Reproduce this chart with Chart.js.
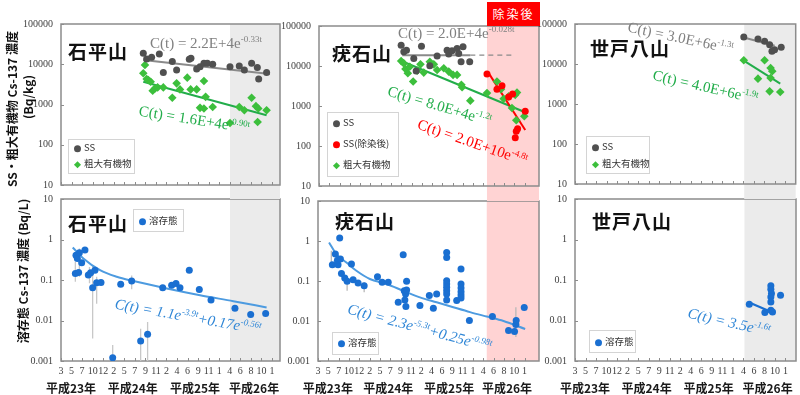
<!DOCTYPE html>
<html>
<head>
<meta charset="utf-8">
<script src="https://cdn.jsdelivr.net/npm/chart.js@4.4.1/dist/chart.umd.min.js"></script>
<style>
body { margin: 0; background: #fff; }
#wrap { position: relative; width: 800px; height: 395px; overflow: hidden; font-family: "Noto Sans CJK JP", sans-serif; }
canvas { position: absolute; left: 0; top: 0; }
.ti { position: absolute; font-size: 19px; font-weight: bold; color: #111; letter-spacing: 1px; line-height: 1; transform: translateY(-50%); white-space: nowrap; }
.eq { position: absolute; font-family: "Liberation Serif", serif; font-size: 15px; line-height: 1; white-space: nowrap; transform-origin: 0 50%; }
.eq.it { font-style: italic; }
.eq sup { font-size: 9px; vertical-align: 6px; line-height: 0; }
.yt { position: absolute; transform: translate(-50%, -50%) rotate(-90deg); font-weight: bold; font-size: 12px; color: #111; white-space: nowrap; line-height: 1; }
.lg { position: absolute; border: 1px solid #d4d4d4; background: #fff; font-size: 9.5px; color: #333; }
.li { position: absolute; left: 5px; white-space: nowrap; line-height: 1; transform: translateY(-50%); }
.dot { display: inline-block; width: 7px; height: 7px; border-radius: 50%; margin-right: 3px; vertical-align: -0.5px; }
.dia { display: inline-block; width: 5px; height: 5px; transform: rotate(45deg); margin: 0 4px 0 1px; vertical-align: 0.5px; }
#jo { position: absolute; left: 487px; top: 2px; width: 53px; height: 24px; background: #ff0000; color: #fff; font-size: 12px; letter-spacing: 2px; text-align: center; line-height: 24px; }
</style>
</head>
<body>
<div id="wrap">
  <canvas id="bl" width="800" height="395"></canvas>
  <canvas id="bm" width="800" height="395"></canvas>
  <canvas id="br" width="800" height="395"></canvas>
  <canvas id="tl" width="800" height="395"></canvas>
  <canvas id="tm" width="800" height="395"></canvas>
  <canvas id="tr" width="800" height="395"></canvas>

  <div id="jo">除染後</div>

  <div class="yt" style="left:12px;top:109px">SS・粗大有機物 Cs-137 濃度</div>
  <div class="yt" style="left:28px;top:97px">(Bq/kg)</div>
  <div class="yt" style="left:23px;top:271px">溶存態 Cs-137 濃度 (Bq/L)</div>

  <div class="ti" style="left:68px;top:50px">石平山</div>
  <div class="ti" style="left:332px;top:52px">疣石山</div>
  <div class="ti" style="left:590px;top:47px">世戸八山</div>
  <div class="ti" style="left:68px;top:222px">石平山</div>
  <div class="ti" style="left:335px;top:220px">疣石山</div>
  <div class="ti" style="left:592px;top:220px">世戸八山</div>

  <div class="eq" style="left:150px;top:43px;color:#808080;transform:translateY(-50%)">C(t) = 2.2E+4e<sup>-0.33t</sup></div>
  <div class="eq" style="left:139px;top:111px;color:#22ad4a;transform:translateY(-50%) rotate(9deg)">C(t) = 1.6E+4e<sup>-0.90t</sup></div>
  <div class="eq" style="left:398px;top:33px;color:#808080;transform:translateY(-50%)">C(t) = 2.0E+4e<sup>-0.028t</sup></div>
  <div class="eq" style="left:388px;top:91px;color:#22ad4a;transform:translateY(-50%) rotate(16.5deg)">C(t) = 8.0E+4e<sup>-1.2t</sup></div>
  <div class="eq" style="left:418px;top:124px;color:#ff0000;transform:translateY(-50%) rotate(19deg)">C(t) = 2.0E+10e<sup>-4.8t</sup></div>
  <div class="eq" style="left:628px;top:27px;color:#808080;transform:translateY(-50%) rotate(12deg)">C(t) = 3.0E+6e<sup>-1.3t</sup></div>
  <div class="eq" style="left:653px;top:75px;color:#22ad4a;transform:translateY(-50%) rotate(13deg)">C(t) = 4.0E+6e<sup>-1.9t</sup></div>
  <div class="eq it" style="left:115px;top:304px;color:#2f86d6;transform:translateY(-50%) rotate(10deg)">C(t) = 1.1e<sup>-3.9t</sup>+0.17e<sup>-0.56t</sup></div>
  <div class="eq it" style="left:348px;top:309px;color:#2f86d6;transform:translateY(-50%) rotate(15deg)">C(t) = 2.3e<sup>-5.3t</sup>+0.25e<sup>-0.98t</sup></div>
  <div class="eq it" style="left:688px;top:313px;color:#2f86d6;transform:translateY(-50%) rotate(13deg)">C(t) = 3.5e<sup>-1.6t</sup></div>

  <div class="lg" style="left:68px;top:139px;width:65px;height:33px">
    <div class="li" style="top:8px"><i class="dot" style="background:#505050"></i>SS</div>
    <div class="li" style="top:24px"><i class="dia" style="background:#3cbf3c"></i>粗大有機物</div>
  </div>
  <div class="lg" style="left:327px;top:112px;width:70px;height:63px">
    <div class="li" style="top:10px"><i class="dot" style="background:#505050"></i>SS</div>
    <div class="li" style="top:31px"><i class="dot" style="background:#ff0000"></i>SS(除染後)</div>
    <div class="li" style="top:52px"><i class="dia" style="background:#3cbf3c"></i>粗大有機物</div>
  </div>
  <div class="lg" style="left:586px;top:136px;width:62px;height:36px">
    <div class="li" style="top:10px"><i class="dot" style="background:#505050"></i>SS</div>
    <div class="li" style="top:27px"><i class="dia" style="background:#3cbf3c"></i>粗大有機物</div>
  </div>
  <div class="lg" style="left:133px;top:209px;width:49px;height:21px">
    <div class="li" style="top:11px"><i class="dot" style="background:#1a6fd1"></i>溶存態</div>
  </div>
  <div class="lg" style="left:332px;top:332px;width:45px;height:21px">
    <div class="li" style="top:10px"><i class="dot" style="background:#1a6fd1"></i>溶存態</div>
  </div>
  <div class="lg" style="left:589px;top:330px;width:45px;height:21px">
    <div class="li" style="top:11px"><i class="dot" style="background:#1a6fd1"></i>溶存態</div>
  </div>
</div>

<script>
// axis labels
const monthLabels = ['3', '5', '7', '10', '12', '2', '5', '7', '9', '11', '2', '4', '6', '9', '11', '1', '4', '6', '8', '10', '1'];
const yearLabels = ['平成23年', '平成24年', '平成25年', '平成26年'];
const yearPos = [0.95, 6.8, 12.7, 18.3];
const kgTicks = [10, 100, 1000, 10000, 100000];
const perLTicks = [0.001, 0.01, 0.1, 1, 10];

// 石平山 (SS, 粗大有機物) Bq/kg
const ishiSsX = [7.80, 8.12, 8.59, 9.32, 9.70, 10.55, 10.96, 12.16, 12.32, 12.86, 13.18, 13.55, 13.87, 14.38, 16.02, 16.90, 17.38, 18.07, 18.61, 18.74, 19.49];
const ishiSsY = [18800, 13600, 15000, 18100, 6200, 11700, 7200, 13300, 14100, 7600, 8700, 10600, 10600, 10000, 8700, 9100, 7200, 10600, 8300, 4300, 6200];
const ishiSsFitX = [7.80, 19.81];
const ishiSsFitY = [12800, 5700];
const ishiOrgX = [7.80, 7.96, 8.12, 8.28, 8.50, 8.69, 8.91, 9.16, 9.70, 10.55, 10.96, 11.28, 11.97, 12.29, 12.86, 13.55, 13.71, 13.18, 13.55, 14.38, 16.02, 16.90, 17.38, 18.07, 18.48, 18.70, 18.64, 19.49];
const ishiOrgY = [5960, 9600, 4300, 4060, 3690, 2200, 2510, 2660, 2660, 1470, 3350, 2370, 4640, 2370, 2370, 3830, 1550, 826, 794, 870, 348, 870, 720, 1470, 910, 794, 369, 720];
const ishiOrgFitX = [7.80, 19.49];
const ishiOrgFitY = [3690, 541];

// 疣石山 Bq/kg
const iboSsX = [7.99, 8.25, 8.51, 9.22, 9.45, 9.97, 10.78, 11.49, 12.46, 12.62, 12.94, 13.43, 13.59, 13.82, 14.01, 14.66];
const iboSsY = [33200, 22600, 24900, 15500, 7500, 31300, 10200, 17700, 24900, 19900, 24000, 27400, 20600, 12800, 30200, 12800];
const iboSsFitX = [8.09, 14.72];
const iboSsFitY = [18700, 18700];
const iboSsDashX = [14.72, 19.1];
const iboSsDashY = [18700, 18700];
const iboRedX = [16.34, 17.31, 17.8, 18.45, 18.83, 19.19, 19.09, 19.32, 20.06];
const iboRedY = [6340, 2640, 3190, 1670, 1990, 235, 161, 269, 738];
const iboRedFitX = [16.41, 20.06];
const iboRedFitY = [7240, 250];
const iboOrgX = [7.99, 8.25, 8.41, 8.64, 8.83, 9.16, 9.55, 9.87, 10.19, 10.78, 11.17, 11.49, 12.14, 12.62, 13.04, 13.43, 13.85, 13.92, 14.72, 16.34, 17.31, 17.7, 17.96, 18.45, 18.77, 19.09, 19.19, 19.97, 19.26];
const iboOrgY = [13300, 11600, 8430, 6580, 9600, 4090, 7660, 11000, 6840, 12800, 11000, 7940, 8750, 7240, 5990, 5990, 3380, 2960, 1360, 2100, 4090, 2640, 1520, 1740, 890, 1900, 442, 555, 2180];
const iboOrgFitX = [7.77, 20.23];
const iboOrgFitY = [14100, 670];

// 世戸八山 Bq/kg
const setoSsX = [16.06, 17.41, 18.04, 18.52, 18.74, 18.99, 19.62];
const setoSsY = [47300, 42200, 36900, 30400, 20700, 22800, 26100];
const setoSsFitX = [16.06, 19.0];
const setoSsFitY = [46000, 28500];
const setoOrgX = [16.06, 17.41, 18.04, 18.61, 18.77, 18.61, 18.52, 19.53];
const setoOrgY = [12400, 4300, 12400, 7940, 6560, 4470, 2070, 2000];
const setoOrgFitX = [16.06, 19.53];
const setoOrgFitY = [12100, 3220];

// 溶存態 Bq/L
const ishiDisX = [1.36, 1.67, 1.42, 1.55, 1.74, 1.96, 2.27, 2.59, 2.81, 3.00, 3.22, 3.38, 3.79, 4.90, 5.66, 6.70, 7.55, 8.21, 9.64, 10.49, 10.90, 11.28, 12.16, 13.11, 14.22, 16.49, 17.98, 19.40];
const ishiDisY = [0.145, 0.153, 0.41, 0.34, 0.47, 0.266, 0.55, 0.132, 0.15, 0.064, 0.175, 0.085, 0.087, 0.0012, 0.079, 0.094, 0.0031, 0.0046, 0.064, 0.074, 0.082, 0.064, 0.175, 0.058, 0.032, 0.020, 0.014, 0.0148];
const ishiErrX = [1.36, 1.74, 2.7, 3.00, 3.38, 4.90, 6.70, 7.55, 8.21];
const ishiErrLo = [0.09, 0.12, 0.083, 0.0036, 0.026, 0.001, 0.059, 0.001, 0.001];
const ishiErrHi = [0.28, 0.6, 0.21, 0.233, 0.12, 0.0025, 0.13, 0.0063, 0.0092];
const ishiDisFitX = [1.11, 2.12, 3.70, 5.28, 6.86, 10.02, 13.18, 16.33, 19.49];
const ishiDisFitY = [0.637, 0.34, 0.175, 0.12, 0.094, 0.0616, 0.042, 0.030, 0.021];

const iboDisX = [1.39, 1.68, 1.94, 1.88, 2.10, 2.17, 2.27, 2.59, 2.82, 3.24, 3.40, 3.88, 4.47, 5.76, 6.21, 6.80, 7.77, 8.25, 8.35, 8.48, 8.41, 8.58, 8.58, 8.51, 9.87, 10.78, 11.17, 11.49,
  12.46, 12.46, 12.46, 12.46, 12.46, 12.46, 12.46, 12.46, 13.43, 13.85, 13.85, 13.85, 13.85, 13.85, 13.85, 14.66, 16.89, 18.45, 19.03, 19.16, 19.19, 19.97];
const iboDisY = [0.255, 0.47, 0.255, 0.33, 1.18, 0.353, 0.155, 0.119, 0.098, 0.265, 0.108, 0.089, 0.0766, 0.128, 0.093, 0.093, 0.0294, 0.453, 0.0574, 0.0474, 0.0336, 0.098, 0.0597, 0.023, 0.0243, 0.0431, 0.0209, 0.0474,
  0.518, 0.388, 0.102, 0.084, 0.0695, 0.0574, 0.0474, 0.0336, 0.0324, 0.199, 0.084, 0.067, 0.0542, 0.0448, 0.0377, 0.0103, 0.0129, 0.0058, 0.0055, 0.0082, 0.0103, 0.0217];
const iboErrX = [19.16, 2.82, 4.47, 1.29];
const iboErrLo = [0.004, 0.057, 0.052, 0.24];
const iboErrHi = [0.022, 0.112, 0.093, 0.57];
const iboDisFitX = [1.07, 1.78, 2.75, 3.72, 5.02, 6.63, 8.25, 9.87, 11.49, 13.1, 14.72, 16.34, 17.96, 20.06];
const iboDisFitY = [0.92, 0.47, 0.29, 0.18, 0.112, 0.084, 0.057, 0.039, 0.0293, 0.0221, 0.0167, 0.0129, 0.0100, 0.0063];

const setoDisX = [16.56, 18.04, 18.61, 18.61, 18.67, 18.61, 18.61, 18.61, 18.77, 19.53];
const setoDisY = [0.0252, 0.0157, 0.0718, 0.0593, 0.0463, 0.0383, 0.0288, 0.0180, 0.0163, 0.0422];
const setoDisFitX = [16.56, 18.99];
const setoDisFitY = [0.0277, 0.0148];

const GRAY_PT = '#505050', GRAY_LN = '#8a8a8a';
const GREEN_PT = '#3cbf3c', GREEN_LN = '#22ad4a';
const RED = '#ff0000';
const BLUE_PT = '#1a6fd1', BLUE_LN = '#4d9be0';
const SHADE_GRAY = '#ebebeb', SHADE_PINK = '#ffd3d3';

const pts = (xs, ys) => xs.map((x, i) => ({ x: x, y: ys[i] }));
const bars = (xs, lo, hi) => xs.flatMap((x, i) => [{ x: x, y: lo[i] }, { x: x, y: hi[i] }, { x: x, y: null }]);

const dots = (data, color) => ({ data: data, pointStyle: 'circle', pointRadius: 3.5, backgroundColor: color, borderColor: color, borderWidth: 0 });
const diamonds = (data, color) => ({ data: data, pointStyle: 'rectRot', pointRadius: 4.3, backgroundColor: color, borderColor: color, borderWidth: 0 });
const fit = (data, color, extra) => Object.assign({ data: data, showLine: true, pointRadius: 0, borderColor: color, borderWidth: 2 }, extra || {});

// shading, frame and inward tick marks
const decor = {
  id: 'decor',
  beforeDatasetsDraw(chart, args, o) {
    const { ctx, chartArea: a, scales } = chart;
    const x = scales.x, y = scales.y;
    ctx.save();
    if (o.shadeFrom != null) {
      const x0 = x.getPixelForValue(o.shadeFrom);
      ctx.fillStyle = o.shadeColor;
      ctx.fillRect(x0, a.top, a.right - x0, a.bottom - a.top + (o.shadeDown || 0));
    }
    ctx.strokeStyle = '#8c8c8c';
    ctx.lineWidth = 1;
    ctx.beginPath();
    x.ticks.forEach(t => {
      const px = Math.round(x.getPixelForValue(t.value)) + 0.5;
      ctx.moveTo(px, a.bottom);
      ctx.lineTo(px, a.bottom - 3);
    });
    y.ticks.forEach(t => {
      const py = Math.round(y.getPixelForValue(t.value)) + 0.5;
      ctx.moveTo(a.left, py);
      ctx.lineTo(a.left + 3, py);
    });
    ctx.stroke();
    ctx.lineWidth = 1.5;
    ctx.strokeRect(a.left, a.top, a.right - a.left, a.bottom - a.top);
    ctx.restore();
  }
};

function panel(id, box, xMax, yRange, yTicks, bottomRow, shade, datasets) {
  const tickFont = { family: 'Liberation Serif', size: 10 };
  const noGrid = { display: false, drawTicks: false };
  new Chart(document.getElementById(id), {
    type: 'scatter',
    data: { datasets: datasets },
    plugins: [decor],
    options: {
      responsive: false,
      animation: false,
      events: [],
      layout: { padding: { left: box.l - 50, top: box.t, right: 800 - box.r, bottom: 395 - box.b - (bottomRow ? 34 : 0) } },
      plugins: {
        legend: { display: false },
        tooltip: { enabled: false },
        decor: shade
      },
      scales: {
        x: {
          type: 'linear', min: 0, max: xMax,
          afterBuildTicks: s => { s.ticks = monthLabels.map((_, i) => ({ value: i })); },
          afterFit: s => { s.height = bottomRow ? 18 : 0; },
          grid: noGrid, border: { display: false },
          ticks: { display: bottomRow, autoSkip: false, maxRotation: 0, padding: 4, font: tickFont, color: '#404040', callback: (v, i) => monthLabels[i] }
        },
        x2: {
          type: 'linear', axis: 'x', position: 'bottom', display: bottomRow, weight: 1, min: 0, max: xMax,
          afterBuildTicks: s => { s.ticks = yearPos.map(v => ({ value: v })); },
          afterFit: s => { s.height = bottomRow ? 16 : 0; },
          grid: noGrid, border: { display: false },
          ticks: { autoSkip: false, maxRotation: 0, padding: 2, font: { family: 'Noto Sans CJK JP', size: 12, weight: 'bold' }, color: '#1a1a1a', callback: (v, i) => yearLabels[i] }
        },
        y: {
          type: 'logarithmic', min: yRange[0], max: yRange[1],
          afterBuildTicks: s => { s.ticks = yTicks.map(v => ({ value: v })); },
          afterFit: s => { s.width = 50; },
          grid: noGrid, border: { display: false },
          ticks: { padding: 8, font: tickFont, color: '#404040', callback: v => String(v) }
        }
      }
    }
  });
}

// bottom row
panel('bl', { l: 61, t: 199, r: 280, b: 361 }, 20.76, [0.001, 10], perLTicks, true,
  { shadeFrom: 16.02, shadeColor: SHADE_GRAY }, [
    dots(pts(ishiDisX, ishiDisY), BLUE_PT),
    fit(pts(ishiDisFitX, ishiDisFitY), BLUE_LN, { tension: 0.4, cubicInterpolationMode: 'monotone' }),
    fit(bars(ishiErrX, ishiErrLo, ishiErrHi), '#c8c8c8', { borderWidth: 1.3, spanGaps: false })
  ]);
panel('bm', { l: 318, t: 201, r: 539, b: 361 }, 21.4, [0.001, 10], perLTicks, true,
  { shadeFrom: 16.34, shadeColor: SHADE_PINK }, [
    dots(pts(iboDisX, iboDisY), BLUE_PT),
    fit(pts(iboDisFitX, iboDisFitY), BLUE_LN, { tension: 0.4, cubicInterpolationMode: 'monotone' }),
    fit(bars(iboErrX, iboErrLo, iboErrHi), '#b8b8b8', { borderWidth: 1.3, spanGaps: false })
  ]);
panel('br', { l: 575, t: 199, r: 797, b: 361 }, 21.0, [0.001, 10], perLTicks, true,
  { shadeFrom: 16.1, shadeColor: SHADE_GRAY }, [
    dots(pts(setoDisX, setoDisY), BLUE_PT),
    fit(pts(setoDisFitX, setoDisFitY), BLUE_PT, { borderWidth: 2.2 })
  ]);

// top row
panel('tl', { l: 61, t: 24, r: 280, b: 185 }, 20.76, [10, 100000], kgTicks, false,
  { shadeFrom: 16.02, shadeColor: SHADE_GRAY, shadeDown: 14 }, [
    dots(pts(ishiSsX, ishiSsY), GRAY_PT),
    diamonds(pts(ishiOrgX, ishiOrgY), GREEN_PT),
    fit(pts(ishiSsFitX, ishiSsFitY), GRAY_LN),
    fit(pts(ishiOrgFitX, ishiOrgFitY), GREEN_LN)
  ]);
panel('tm', { l: 319, t: 26, r: 539, b: 186 }, 21.4, [10, 100000], kgTicks, false,
  { shadeFrom: 16.34, shadeColor: SHADE_PINK, shadeDown: 15 }, [
    dots(pts(iboRedX, iboRedY), RED),
    dots(pts(iboSsX, iboSsY), GRAY_PT),
    diamonds(pts(iboOrgX, iboOrgY), GREEN_PT),
    fit(pts(iboRedFitX, iboRedFitY), RED),
    fit(pts(iboSsFitX, iboSsFitY), GRAY_LN),
    fit(pts(iboSsDashX, iboSsDashY), GRAY_LN, { borderWidth: 1.3, borderDash: [5, 4] }),
    fit(pts(iboOrgFitX, iboOrgFitY), GREEN_LN)
  ]);
panel('tr', { l: 575, t: 24, r: 797, b: 184 }, 21.0, [10, 100000], kgTicks, false,
  { shadeFrom: 16.1, shadeColor: SHADE_GRAY, shadeDown: 15 }, [
    dots(pts(setoSsX, setoSsY), GRAY_PT),
    diamonds(pts(setoOrgX, setoOrgY), GREEN_PT),
    fit(pts(setoSsFitX, setoSsFitY), GRAY_LN),
    fit(pts(setoOrgFitX, setoOrgFitY), GREEN_LN)
  ]);
</script>
</body>
</html>
